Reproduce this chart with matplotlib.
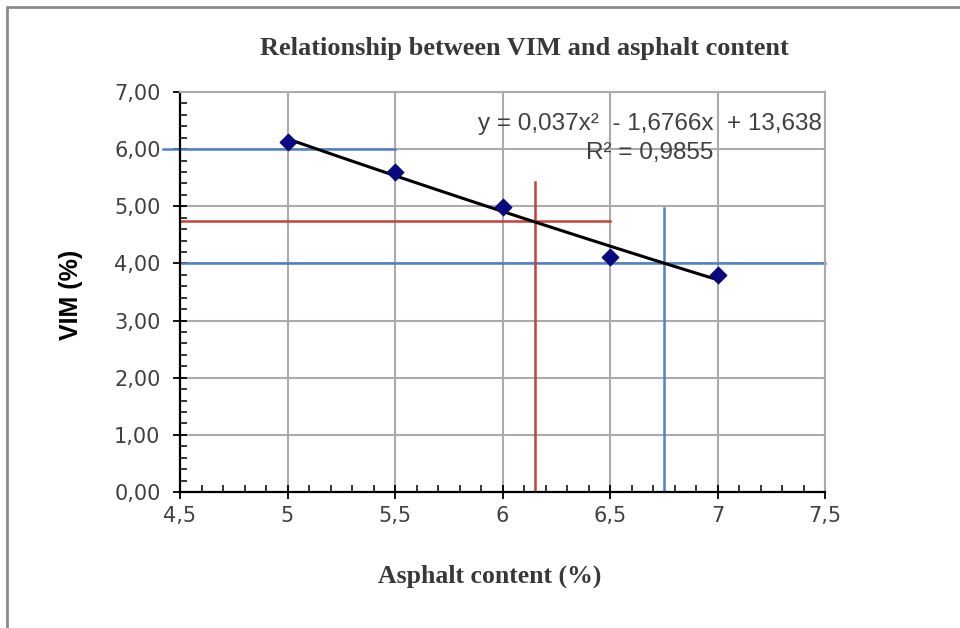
import matplotlib.pyplot as plt
from matplotlib.patches import Rectangle
from matplotlib.ticker import MultipleLocator, FuncFormatter
import numpy as np

# measured points
asphalt = [5.0, 5.5, 6.0, 6.5, 7.0]
vim = [6.12, 5.60, 4.98, 4.12, 3.79]

# polynomial trendline shown on the chart
coef = [0.037, -1.6766, 13.638]
r2_text = "R² = 0,9855"
eq_text = "y = 0,037x²  - 1,6766x  + 13,638"

# guide lines (level, start, end)
blue_h = [(6.0, 4.42, 5.5), (4.0, 4.5, 7.5)]
blue_v = [(6.75, 0.0, 4.97)]
red_h = [(4.75, 4.5, 6.5)]
red_v = [(6.15, 0.0, 5.43)]

blue = "#4F81C8"
red = "#C8403C"

fig = plt.figure(figsize=(9.6, 6.28), dpi=100)
fig.patches.append(Rectangle((7 / 960, -0.1), 1.2, 1 - 7 / 628 + 0.1,
                             transform=fig.transFigure, fill=False,
                             edgecolor="#8c8c8c", linewidth=2))

ax = fig.add_axes([180 / 960, 1 - 492 / 628, 645 / 960, 400 / 628])
ax.set_xlim(4.5, 7.5)
ax.set_ylim(0, 7)

ax.xaxis.set_major_locator(MultipleLocator(0.5))
ax.xaxis.set_minor_locator(MultipleLocator(0.1))
ax.yaxis.set_major_locator(MultipleLocator(1))
ax.yaxis.set_minor_locator(MultipleLocator(0.2))
ax.xaxis.set_major_formatter(FuncFormatter(lambda v, p: f"{v:g}".replace(".", ",")))
ax.yaxis.set_major_formatter(FuncFormatter(lambda v, p: f"{v:.2f}".replace(".", ",")))

ax.grid(True, which="major", color="#ababab", linewidth=1.5)
ax.set_axisbelow(True)
for s in ["top", "right"]:
    ax.spines[s].set_color("#ababab")
    ax.spines[s].set_linewidth(1.5)
for s in ["left", "bottom"]:
    ax.spines[s].set_color("black")
    ax.spines[s].set_linewidth(1.6)

ax.tick_params(which="major", direction="inout", length=10, width=1.3,
               labelsize=15, labelcolor="#404040")
ax.tick_params(which="minor", direction="in", length=5, width=1.1)
ax.tick_params(axis="y", which="major", pad=9)
ax.tick_params(axis="x", which="major", pad=5)

for y, x0, x1 in blue_h:
    ax.plot([x0, x1], [y, y], color=blue, linewidth=1.8, clip_on=False, zorder=2)
for x, y0, y1 in blue_v:
    ax.plot([x, x], [y0, y1], color=blue, linewidth=1.8, zorder=2)
for y, x0, x1 in red_h:
    ax.plot([x0, x1], [y, y], color=red, linewidth=1.8, zorder=2)
for x, y0, y1 in red_v:
    ax.plot([x, x], [y0, y1], color=red, linewidth=1.8, zorder=2)

xs = np.linspace(min(asphalt), max(asphalt), 100)
ax.plot(xs, np.polyval(coef, xs), color="black", linewidth=2.2, zorder=3)
ax.scatter(asphalt, vim, marker="D", s=70, color="#0a0a80", zorder=4)

ax.text(6.686, 6.44, eq_text, ha="center", va="center", fontsize=17.5,
        family="Liberation Sans", color="#404040", zorder=5)
ax.text(6.686, 5.93, r2_text, ha="center", va="center", fontsize=17.5,
        family="Liberation Sans", color="#404040", zorder=5)

fig.text(524 / 960, 1 - 48 / 628, "Relationship between VIM and asphalt content",
         ha="center", va="center", fontsize=19, fontweight="bold",
         family="Liberation Serif", color="#383838")
fig.text(490 / 960, 1 - 576 / 628, "Asphalt content (%)", ha="center", va="center",
         fontsize=18.5, fontweight="bold", family="Liberation Serif", color="#383838")
fig.text(71 / 960, 1 - 295 / 628, "VIM (%)", ha="center", va="center", rotation=90,
         fontsize=18, fontweight="bold", family="Liberation Sans", color="black")

fig.savefig("out.png", dpi=100)
